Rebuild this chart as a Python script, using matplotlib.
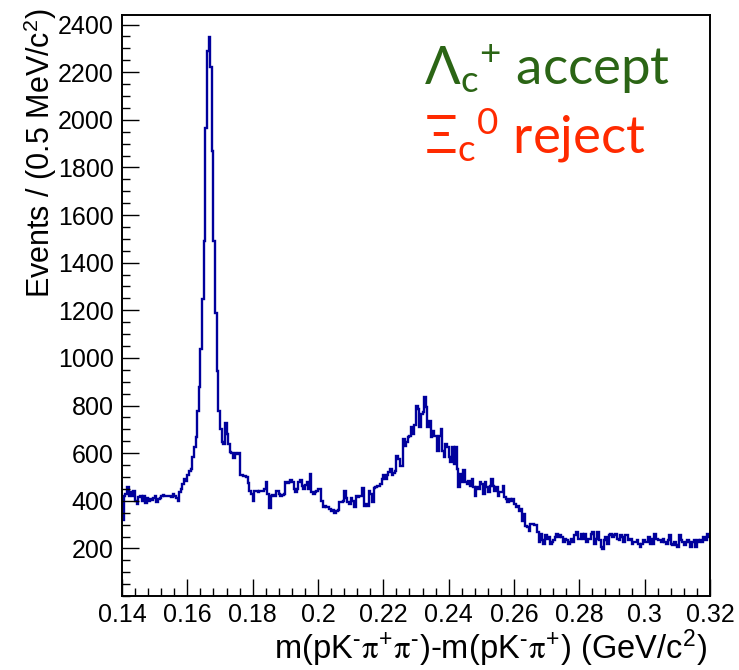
import numpy as np
import matplotlib
matplotlib.use("Agg")
import matplotlib.pyplot as plt
from matplotlib.ticker import FixedLocator, MultipleLocator

# Binning: 0.5 MeV bins from 0.14 to 0.32 GeV/c^2
x_lo = 0.14
bin_width = 0.0005

# Bin contents (events per bin), left to right
counts_sideband = [
    320, 422, 430, 457, 422, 436, 422, 443, 400, 387, 415, 418, 401, 422, 390,
    412, 401, 408, 405, 412, 420, 396, 408, 412, 418, 425, 420, 418, 422, 420,
    415, 429, 420, 412, 401, 436, 450, 470, 493, 485, 510, 527, 533,
]
counts_sigma_c_peak = [
    582, 624, 666, 779, 876, 1039, 1249, 1493, 1967, 2290, 2346, 2220, 1871,
    1493, 1190, 947, 779, 700, 645, 640, 725,
]
counts_mid = [
    680, 640, 605, 600, 578, 600, 595, 600, 510, 510, 505, 505, 500, 473, 443,
    430, 400, 443, 440, 435, 440, 443, 440, 451, 477, 430, 368, 422, 425, 422,
    443, 443, 430, 422, 425, 430, 477, 473, 480, 486, 477, 451, 435, 450, 477,
    486, 460, 451, 465, 477, 451, 514, 435, 430, 435, 440, 451, 451, 401,
]
counts_rise = [
    375, 380, 372, 372, 365, 355, 360, 350, 355, 362, 393, 395, 400, 443, 410,
    393, 388, 410, 400, 372, 420, 415, 418, 420, 452, 378, 385, 378, 443, 430,
    393, 452, 457, 464, 464, 470, 493, 507, 493, 507, 520, 533, 507, 515, 527,
    590, 576, 548, 548, 660, 632, 646, 667, 674, 709, 681, 720, 800, 786, 709,
    765, 772, 835, 793, 709, 737, 667, 695, 674, 674,
]
counts_fall = [
    611, 673, 703, 611, 583, 640, 625, 583, 562, 625, 555, 625, 535, 457, 514,
    478, 528, 478, 471, 485, 464, 492, 457, 422, 457, 450, 478, 471, 429, 478,
    457, 436, 464, 492, 464, 443, 457, 422, 436, 436, 464, 415, 408, 394, 408,
    401, 408, 387, 373, 380, 359, 366, 317, 345, 296, 289, 275,
]
counts_tail = [
    304, 304, 297, 297, 268, 225, 262, 234, 220, 255, 241, 248, 220, 227, 234,
    248, 262, 248, 255, 248, 227, 241, 234, 220, 227, 241, 227, 255, 269, 241,
    241, 262, 241, 262, 227, 241, 241, 262, 269, 220, 241, 269, 234, 206, 199,
    234, 248, 220, 255, 262, 248, 255, 262, 241, 234, 255, 248, 227, 255, 255,
    234, 241, 220, 227, 227, 234, 220, 206, 220, 234, 227, 227, 248, 220, 241,
    220, 262, 241, 234, 234, 227, 241, 227, 220, 234, 255, 220, 213, 227, 213,
    206, 255, 234, 227, 213, 227, 234, 227, 206, 227, 234, 206, 234, 227, 234,
    227, 248, 234, 262, 248,
]

x_ticks = [0.14, 0.16, 0.18, 0.20, 0.22, 0.24, 0.26, 0.28, 0.30, 0.32]
x_tick_labels = ["0.14", "0.16", "0.18", "0.2", "0.22", "0.24", "0.26", "0.28", "0.3", "0.32"]
y_ticks = [200, 400, 600, 800, 1000, 1200, 1400, 1600, 1800, 2000, 2200, 2400]
y_tick_labels = ["200", "400", "600", "800", "1000", "1200", "1400", "1600",
                 "1800", "2000", "2200", "2400"]

counts = np.array(counts_sideband + counts_sigma_c_peak + counts_mid
                  + counts_rise + counts_fall + counts_tail, dtype=float)
edges = x_lo + bin_width * np.arange(len(counts) + 1)

plt.rcParams["font.family"] = ["Liberation Sans", "DejaVu Sans"]
plt.rcParams["mathtext.fontset"] = "custom"
plt.rcParams["mathtext.rm"] = "Lato"
plt.rcParams["mathtext.it"] = "Lato"
plt.rcParams["mathtext.bf"] = "Lato:bold"

fig = plt.figure(figsize=(7.39, 6.70), dpi=100)
ax = fig.add_axes([0.1651, 0.1104, 0.7957, 0.8672])

ax.stairs(counts, edges, baseline=None, color="#00009C", linewidth=1.7)

ax.set_xlim(0.14, 0.32)
ax.set_ylim(0, 2440)

ax.xaxis.set_major_locator(FixedLocator(x_ticks))
ax.set_xticklabels(x_tick_labels)
ax.xaxis.set_minor_locator(MultipleLocator(0.004))
ax.yaxis.set_major_locator(FixedLocator(y_ticks))
ax.set_yticklabels(y_tick_labels)
ax.yaxis.set_minor_locator(MultipleLocator(50))

ax.tick_params(which="both", direction="in", top=False, right=False,
               labelsize=18, width=1.0, color="black")
ax.tick_params(which="major", length=12)
ax.tick_params(which="minor", length=6)
ax.tick_params(axis="y", pad=6)
ax.tick_params(axis="x", pad=5)
for sp in ax.spines.values():
    sp.set_linewidth(1.4)

ax.set_xlabel(r"m(pK$^{\mathregular{\text{-}}}\mathrm{\pi}^{\mathregular{+}}\mathrm{\pi}^{\mathregular{\text{-}}}$)"
              r"-m(pK$^{\mathregular{\text{-}}}\mathrm{\pi}^{\mathregular{+}}$) (GeV/c$^{\mathregular{2}}$)",
              fontsize=23.5, loc="right", math_fontfamily="stix")
ax.xaxis.set_label_coords(0.995, -0.054)

ax.set_ylabel(r"Events / (0.5 MeV/c$^{\mathregular{2}}$)", fontsize=22,
              loc="top", math_fontfamily="stix")
ax.yaxis.set_label_coords(-0.108, 1.012)

ax.text(0.514, 0.8795, r"$\mathrm{\Lambda_{c}{}^{+}}$ accept", transform=ax.transAxes,
        fontsize=38, family="Lato", color="#2B6515", ha="left", va="baseline")
ax.text(0.514, 0.7625, r"$\mathrm{\Xi_{c}{}^{0}}$ reject", transform=ax.transAxes,
        fontsize=38, family="Lato", color="#FF2A00", ha="left", va="baseline")

fig.savefig("out.png", dpi=100)
